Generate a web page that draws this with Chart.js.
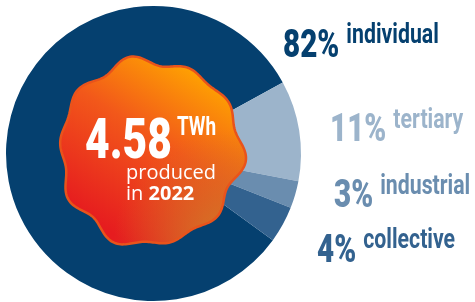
<!DOCTYPE html>
<html>
<head>
<meta charset="utf-8">
<script src="https://cdn.jsdelivr.net/npm/chart.js"></script>
<style>
  html, body { margin: 0; padding: 0; background: #fff; }
  #wrap { width: 475px; height: 302px; position: relative; }
</style>
</head>
<body>
<div id="wrap"><canvas id="pie" width="475" height="302"></canvas></div>
<script>
// share of production by sector, 2022
const sectors = ['individual', 'tertiary', 'industrial', 'collective'];
const shares = [82, 11, 3, 4];
const sliceColors = ['#05406f', '#9cb4cb', '#6a8daf', '#33628f'];
const totalValue = '4.58';
const totalUnit = 'TWh';
const totalYear = '2022';

// no condensed font around, so squeeze Roboto horizontally
const SQUEEZE = 0.76;
function narrowText(ctx, text, x, y, size, weight) {
  ctx.font = (weight || 'bold') + ' ' + size + 'px Roboto, sans-serif';
  ctx.save();
  ctx.translate(x, y);
  ctx.scale(SQUEEZE, 1);
  ctx.fillText(text, 0, 0);
  ctx.restore();
  return ctx.measureText(text).width * SQUEEZE;
}

// where the side labels sit (x of the percent, baseline y, baseline of the name)
const labelSpots = [
  { x: 283, y: 57, sub: 43 },
  { x: 330, y: 141, sub: 128 },
  { x: 334, y: 207, sub: 194 },
  { x: 317, y: 262, sub: 248 }
];

// wavy orange badge in the middle + all the text
const badgePlugin = {
  id: 'badge',
  afterDraw(chart) {
    const ctx = chart.ctx;
    const cx = 150, cy = 152, r = 90;
    ctx.save();
    ctx.beginPath();
    for (let i = 0; i <= 360; i++) {
      const a = i * Math.PI / 180;
      const rr = r + 3.2 * Math.sin(a * 10 + 0.6) + 2 * Math.sin(a * 7 + 1.3) + 1.5 * Math.sin(a * 3 + 2);
      const px = cx + rr * Math.cos(a), py = cy + rr * 1.02 * Math.sin(a);
      if (i === 0) ctx.moveTo(px, py); else ctx.lineTo(px, py);
    }
    ctx.closePath();
    const g = ctx.createLinearGradient(185, 58, 85, 215);
    g.addColorStop(0, '#ffa600');
    g.addColorStop(0.45, '#f2581a');
    g.addColorStop(1, '#e61c1f');
    ctx.fillStyle = g;
    ctx.fill();
    const g2 = ctx.createRadialGradient(228, 245, 5, 228, 245, 115);
    g2.addColorStop(0, 'rgba(208,125,40,0.95)');
    g2.addColorStop(1, 'rgba(208,110,40,0)');
    ctx.fillStyle = g2;
    ctx.fill();
    ctx.lineWidth = 2.5;
    ctx.strokeStyle = '#e9531b';
    ctx.stroke();

    // centre text
    ctx.fillStyle = '#fff';
    ctx.textBaseline = 'alphabetic';
    const w = narrowText(ctx, totalValue, 85, 158, 56, '900');
    narrowText(ctx, totalUnit, 85 + w + 5, 135, 25);
    ctx.font = '20px "Open Sans", sans-serif';
    ctx.fillText('produced', 126, 179);
    ctx.fillText('in ', 126, 200);
    const wi = ctx.measureText('in ').width;
    ctx.font = 'bold 20px "Open Sans", sans-serif';
    ctx.fillText(totalYear, 126 + wi, 200);

    // side labels
    sectors.forEach((name, i) => {
      const s = labelSpots[i];
      ctx.fillStyle = sliceColors[i];
      const pw = narrowText(ctx, shares[i] + '%', s.x, s.y, 39, '900');
      narrowText(ctx, name, s.x + pw + 7, s.sub, 28);
    });
    ctx.restore();
  }
};

new Chart(document.getElementById('pie').getContext('2d'), {
  type: 'pie',
  data: {
    labels: sectors,
    datasets: [{
      data: shares,
      backgroundColor: sliceColors,
      borderWidth: 0
    }]
  },
  options: {
    responsive: false,
    animation: false,
    rotation: 126,
    layout: { padding: { left: 6, right: 174, top: 6, bottom: 1 } },
    plugins: {
      legend: { display: false },
      tooltip: { enabled: false }
    }
  },
  plugins: [badgePlugin]
});
</script>
</body>
</html>
